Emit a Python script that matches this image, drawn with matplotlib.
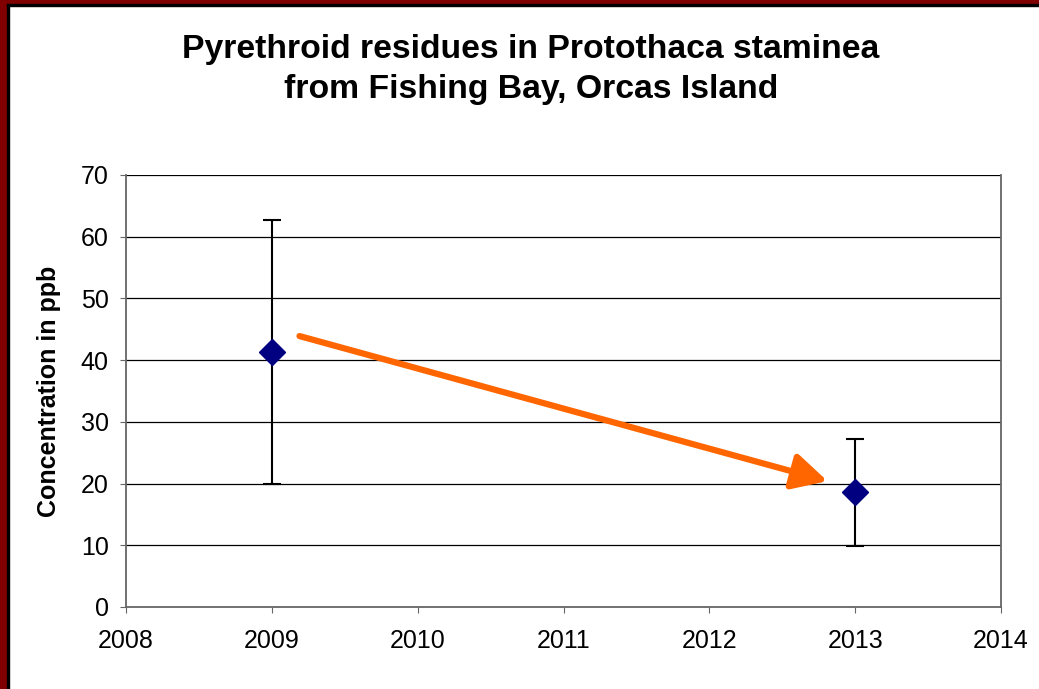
import numpy as np
import matplotlib
matplotlib.use("Agg")
import matplotlib.pyplot as plt
from matplotlib.patches import Rectangle

plt.rcParams["font.family"] = ["Liberation Sans", "DejaVu Sans"]

# datos
anios = [2009, 2013]
conc = [41.3, 18.6]
err_bajo = [21.4, 8.7]
err_alto = [21.4, 8.6]

flecha_ini = (2009.19, 43.9)
flecha_fin = (2012.81, 20.4)

fig = plt.figure(figsize=(10.39, 6.89), dpi=100)
ax = fig.add_axes([126/1039, 1-607/689, 875/1039, 432/689])

ax.set_xlim(2008, 2014)
ax.set_ylim(0, 70)
ax.set_yticks(range(0, 71, 10))
ax.set_xticks(range(2008, 2015))

for v in range(10, 71, 10):
    ax.axhline(v, color="black", lw=0.9, zorder=1)

ax.errorbar(anios, conc, yerr=[err_bajo, err_alto], fmt="none",
            ecolor="black", elinewidth=1.5, capsize=6.5, capthick=1.5, zorder=3)
ax.plot(anios, conc, "D", color="#000080", markersize=13.5, zorder=4)

ax.annotate("", xy=flecha_fin, xytext=flecha_ini,
            arrowprops=dict(arrowstyle="-|>,head_length=2.1,head_width=1.1",
                            color="#FF6600", lw=4.5, shrinkA=0, shrinkB=0),
            zorder=5)

for s in ["left", "bottom", "right"]:
    ax.spines[s].set_color("#666666")
    ax.spines[s].set_linewidth(1.3)
ax.spines["top"].set_visible(False)
ax.tick_params(axis="both", direction="out", length=4.5, color="#666666",
               labelsize=18, pad=8)
ax.tick_params(axis="x", pad=11)

ax.set_ylabel("Concentration in ppb", fontsize=18, fontweight="bold", labelpad=14)

fig.text(0.511, 0.95, "Pyrethroid residues in Protothaca staminea\nfrom Fishing Bay, Orcas Island",
         ha="center", va="top", fontsize=24.3, fontweight="bold", linespacing=1.36)

# borde rojo
fig.patches.append(Rectangle((0, 0), 7/1039, 1, transform=fig.transFigure,
                             color="#800000", zorder=0))
fig.patches.append(Rectangle((0, 1-4/689), 1, 4/689, transform=fig.transFigure,
                             color="#800000", zorder=0))
fig.patches.append(Rectangle((7/1039, 0), 1.5/1039, 1-4/689, transform=fig.transFigure,
                             color="black", zorder=0))
fig.patches.append(Rectangle((7/1039, 1-5.5/689), 1, 1.5/689, transform=fig.transFigure,
                             color="black", zorder=0))

plt.savefig("out.png", dpi=100)
